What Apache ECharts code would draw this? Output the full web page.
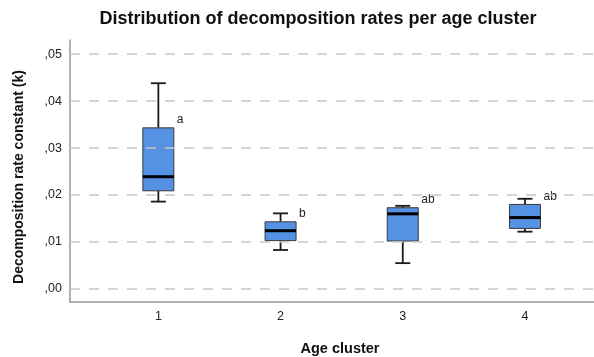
<!DOCTYPE html>
<html>
<head>
<meta charset="utf-8">
<script src="https://cdn.jsdelivr.net/npm/echarts@6/dist/echarts.min.js"></script>
<style>html,body{margin:0;padding:0;background:#fff}#c{width:594px;height:357px}</style>
</head>
<body>
<div id="c"></div>
<script>
// ---- data ----
const categories = [1, 2, 3, 4];
const whiskerMin = [0.0186, 0.0083, 0.0055, 0.0122];
const q1Values   = [0.0209, 0.0103, 0.0102, 0.0129];
const medians    = [0.0239, 0.0124, 0.0160, 0.0152];
const q3Values   = [0.0343, 0.0143, 0.0173, 0.0180];
const whiskerMax = [0.0438, 0.0161, 0.0177, 0.0192];
const groupLetters = ['a', 'b', 'ab', 'ab'];
const yTicks = [0, 0.01, 0.02, 0.03, 0.04, 0.05];

const FONT = 'Liberation Sans, Arial, sans-serif';
const boxData = categories.map((c, i) => [c, whiskerMin[i], q1Values[i], medians[i], q3Values[i], whiskerMax[i]]);

function renderItem(params, api) {
  const x = api.value(0);
  const pMin = api.coord([x, api.value(1)]);
  const pQ1 = api.coord([x, api.value(2)]);
  const pMed = api.coord([x, api.value(3)]);
  const pQ3 = api.coord([x, api.value(4)]);
  const pMax = api.coord([x, api.value(5)]);
  const cx = pMed[0];
  const hw = 15.5, cap = 7.5;
  const lineStyle = { stroke: '#1a1a1a', lineWidth: 1.8 };
  return {
    type: 'group',
    children: [
      { type: 'line', shape: { x1: cx, y1: pMax[1], x2: cx, y2: pQ3[1] }, style: lineStyle },
      { type: 'line', shape: { x1: cx, y1: pQ1[1], x2: cx, y2: pMin[1] }, style: lineStyle },
      { type: 'line', shape: { x1: cx - cap, y1: pMax[1], x2: cx + cap, y2: pMax[1] }, style: lineStyle },
      { type: 'line', shape: { x1: cx - cap, y1: pMin[1], x2: cx + cap, y2: pMin[1] }, style: lineStyle },
      { type: 'rect', shape: { x: cx - hw, y: pQ3[1], width: hw * 2, height: pQ1[1] - pQ3[1] },
        style: { fill: '#5592E3', stroke: '#3a3a3a', lineWidth: 1 } },
      { type: 'line', shape: { x1: cx - hw, y1: pMed[1], x2: cx + hw, y2: pMed[1] },
        style: { stroke: '#000', lineWidth: 3 } },
      { type: 'text', x: cx + hw + 3, y: pQ3[1] - 8,
        style: { text: groupLetters[params.dataIndex], fill: '#222', font: '12px ' + FONT,
                 textAlign: 'left', textVerticalAlign: 'middle' } }
    ]
  };
}

const chart = echarts.init(document.getElementById('c'), null, { renderer: 'canvas' });
chart.setOption({
  animation: false,
  backgroundColor: '#fff',
  textStyle: { fontFamily: FONT },
  graphic: [{
    type: 'text', x: 318, y: 19,
    style: { text: 'Distribution of decomposition rates per age cluster', fill: '#111',
             font: 'bold 18px ' + FONT, textAlign: 'center', textVerticalAlign: 'middle' }
  }, {
    type: 'text', x: 340, y: 349,
    style: { text: 'Age cluster', fill: '#111',
             font: 'bold 14.5px ' + FONT, textAlign: 'center', textVerticalAlign: 'middle' }
  }, {
    type: 'text', x: 19, y: 177, rotation: Math.PI / 2,
    style: { text: 'Decomposition rate constant (k)', fill: '#111',
             font: 'bold 14px ' + FONT, textAlign: 'center', textVerticalAlign: 'middle' }
  }],
  grid: { left: 70, right: 0, top: 40, bottom: 55, containLabel: false },
  xAxis: {
    type: 'value', min: 0.277, max: 4.565,
    axisLine: { show: true, onZero: false, lineStyle: { color: '#999', width: 1.5 } },
    axisTick: { show: false },
    splitLine: { show: false },
    axisLabel: { customValues: categories, color: '#222', fontSize: 12.5, margin: 8, fontFamily: FONT }
  },
  yAxis: {
    type: 'value', min: -0.00277, max: 0.053,
    axisLine: { show: true, onZero: false, lineStyle: { color: '#999', width: 1.5 } },
    axisTick: { show: false },
    splitLine: { show: false },
    axisLabel: {
      customValues: yTicks, color: '#222', fontSize: 12.5, margin: 8, fontFamily: FONT,
      formatter: v => v.toFixed(2).replace(/^0\./, ',')
    }
  },
  series: [{
    type: 'custom',
    renderItem: renderItem,
    data: boxData,
    encode: { x: 0, y: [1, 2, 3, 4, 5] },
    z: 3,
    markLine: {
      silent: true, symbol: 'none', label: { show: false },
      lineStyle: { color: '#c8c8c8', type: [10, 9], width: 1.5 },
      data: yTicks.map(v => ({ yAxis: v }))
    }
  }]
});
</script>
</body>
</html>
